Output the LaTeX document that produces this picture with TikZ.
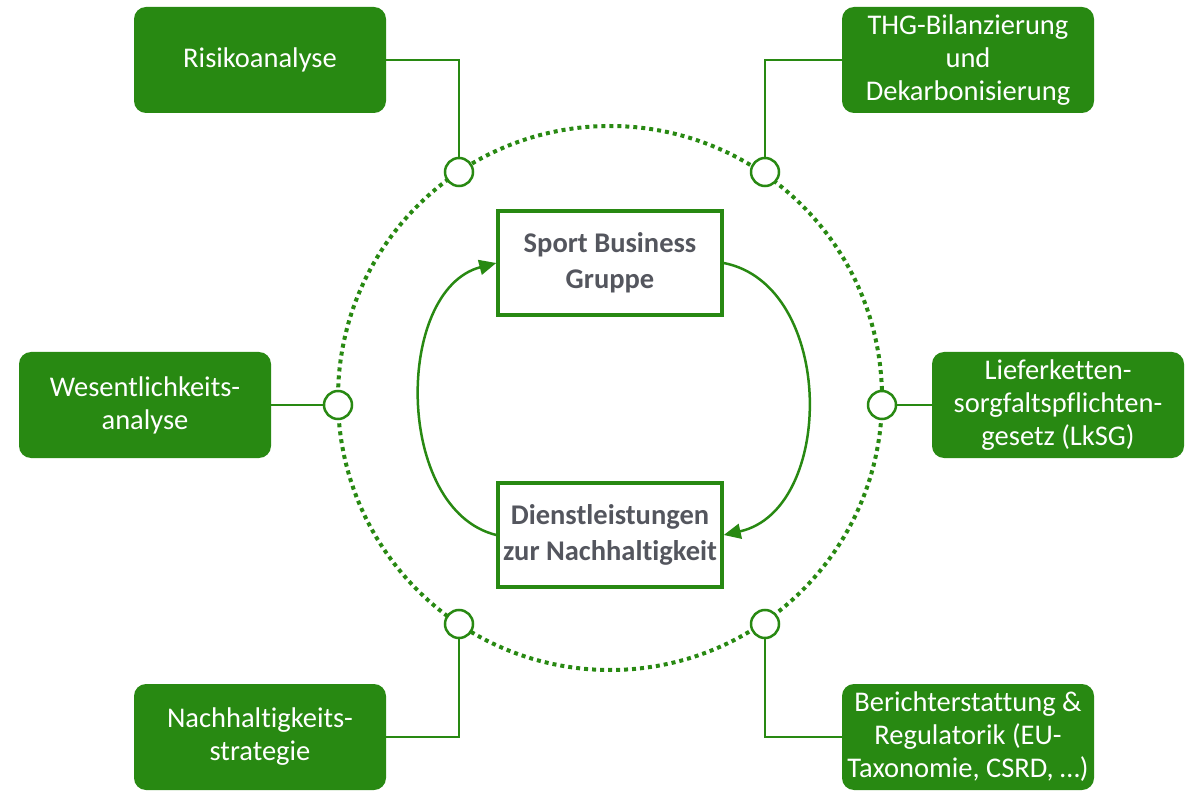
\documentclass[tikz,border=0pt]{standalone}
\usepackage{fontspec}
\setmainfont{Carlito}[Ligatures=NoCommon]
\usetikzlibrary{arrows.meta, positioning}
\definecolor{sbgreen}{RGB}{40,137,18}
\definecolor{sbgray}{RGB}{84,86,94}

\begin{document}
\begin{tikzpicture}[x=1pt, y=-1pt,
  topic/.style={rectangle, fill=sbgreen, rounded corners=12pt, minimum width=252pt,
                minimum height=106pt, text=white, align=center, inner sep=0pt,
                font=\fontsize{28.5}{33}\selectfont},
  core/.style={rectangle, draw=sbgreen, line width=3.5pt, fill=white,
               minimum width=224pt, minimum height=104pt, text=sbgray, align=center,
               font=\bfseries\fontsize{28.5}{36}\selectfont},
  port/.style={circle, draw=sbgreen, line width=2.5pt, fill=white,
               minimum size=28pt, inner sep=0pt},
  link/.style={draw=sbgreen, line width=1.8pt},
  flow/.style={draw=sbgreen, line width=2.5pt, -{Triangle[length=17pt, width=15pt]}}
]
\useasboundingbox (0,0) rectangle (1192,794);
% dotted ring
\draw[sbgreen, line width=4pt, dash pattern=on 4pt off 4pt] (610,398) circle[radius=272pt];

% centre
\node[core] (gruppe) at (610,263) {Sport Business\\Gruppe};
\node[core] (service) at (610,535) {Dienstleistungen\\zur Nachhaltigkeit};

% topics
\node[topic] (risk) at (260,60)  {Risikoanalyse};
\node[topic] (thg)  at (968,60)  {THG-Bilanzierung\\und\\Dekarbonisierung};
\node[topic] (wes)  at (145,405) {Wesentlichkeits-\\analyse};
\node[topic] (lksg) at (1058,405) {Lieferketten-\\sorgfaltspflichten-\\gesetz (LkSG)};
\node[topic] (strat) at (260,737) {Nachhaltigkeits-\\strategie};
\node[topic] (report) at (968,737) {Berichterstattung \&\\Regulatorik (EU-\\Taxonomie, CSRD, \dots)};

% ports on the ring
\node[port] (p1) at (459,172) {};
\node[port] (p2) at (765,172) {};
\node[port] (p3) at (338,405) {};
\node[port] (p4) at (882,405) {};
\node[port] (p5) at (459,624) {};
\node[port] (p6) at (765,624) {};

\draw[link] (risk.east) -| (p1.north);
\draw[link] (thg.west) -| (p2.north);
\draw[link] (wes.east) -- (p3.west);
\draw[link] (lksg.west) -- (p4.east);
\draw[link] (strat.east) -| (p5.south);
\draw[link] (report.west) -| (p6.south);

% cycle
\draw[flow] (service.west) .. controls +(-102,-25) and +(-102,27) .. (gruppe.west);
\draw[flow] (gruppe.east) .. controls +(112,22) and +(112,-25) .. (service.east);
\end{tikzpicture}
\end{document}
